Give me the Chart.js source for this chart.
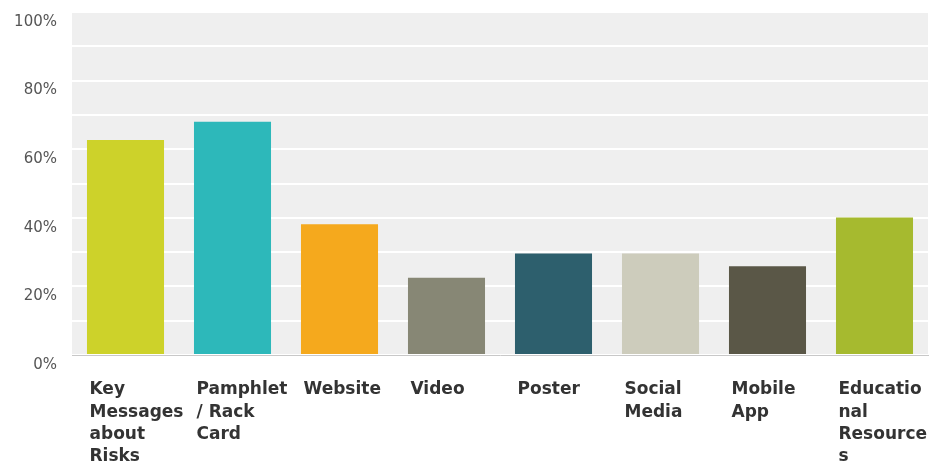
<!DOCTYPE html>
<html>
<head>
<meta charset="utf-8">
<script src="https://cdn.jsdelivr.net/npm/chart.js@4.4.1/dist/chart.umd.min.js"></script>
<style>
  html, body { margin: 0; padding: 0; background: #fff; }
  #wrap { width: 933px; height: 462px; position: relative; }
</style>
</head>
<body>
<div id="wrap"><canvas id="myChart"></canvas></div>
<script>
// categories (multi-line labels as the survey tool wraps them)
const categorias = [
    ['Key', 'Messages', 'about', 'Risks'],
    ['Pamphlet', '/ Rack', 'Card'],
    ['Website'],
    ['Video'],
    ['Poster'],
    ['Social', 'Media'],
    ['Mobile', 'App'],
    ['Educatio', 'nal', 'Resource', 's']
];
// percent of respondents
const valores = [62.7, 68.0, 38.1, 22.5, 29.6, 29.6, 25.9, 40.1];
const colores = ['#cdd22a', '#2db8ba', '#f5a91d', '#878775', '#2d5f6d', '#cdccbc', '#5a5747', '#a6ba2f'];
const ticksY = [0, 20, 40, 60, 80, 100];

// grey plot background behind the bars
const fondo = {
    id: 'fondo',
    beforeDraw(chart) {
        const { ctx, chartArea: a } = chart;
        ctx.save();
        ctx.fillStyle = '#efefef';
        ctx.fillRect(a.left, a.top, a.right - a.left, a.bottom - a.top);
        ctx.restore();
    }
};

const ctx = document.getElementById('myChart').getContext('2d');
const myChart = new Chart(ctx, {
    type: 'bar',
    data: {
        labels: categorias,
        datasets: [{
            data: valores,
            backgroundColor: colores,
            borderWidth: 0,
            barPercentage: 0.72,
            categoryPercentage: 1
        }]
    },
    options: {
        responsive: true,
        maintainAspectRatio: false,
        animation: false,
        layout: { padding: { top: 12, right: 5, left: 0, bottom: 0 } },
        plugins: {
            legend: { display: false },
            tooltip: { enabled: false }
        },
        scales: {
            x: {
                grid: { display: false },
                border: { color: '#c8c8c8', width: 1 },
                // fixed height, no extra room for the overhanging labels
                afterFit: s => { s.height = 107; s.paddingLeft = 0; s.paddingRight = 0; },
                ticks: {
                    autoSkip: false,
                    maxRotation: 0,
                    align: 'start',
                    labelOffset: -36,
                    padding: 16,
                    color: '#333',
                    font: { family: 'DejaVu Sans', size: 17, weight: 'bold', lineHeight: 1.3 }
                }
            },
            y: {
                min: 0,
                max: 100,
                afterFit: s => { s.width = 72; s.paddingTop = 0; s.paddingBottom = 0; },
                border: { display: false },
                grid: { color: '#ffffff', lineWidth: 2, drawTicks: false },
                ticks: {
                    stepSize: 10,
                    padding: 15,
                    labelOffset: 10,
                    color: '#555',
                    font: { family: 'DejaVu Sans', size: 15 },
                    callback: v => ticksY.includes(v) ? v + '%' : ''
                }
            }
        }
    },
    plugins: [fondo]
});
</script>
</body>
</html>
